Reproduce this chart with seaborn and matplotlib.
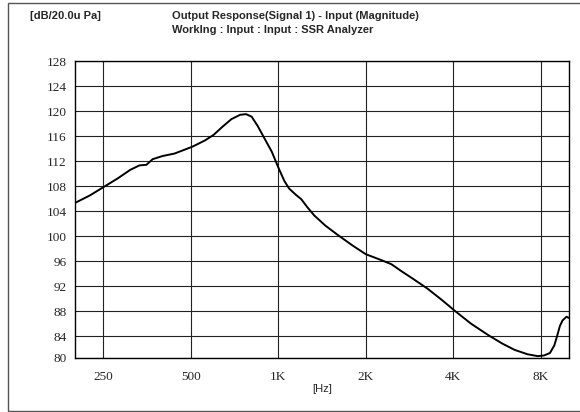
import numpy as np
import pandas as pd
import seaborn as sns
import matplotlib.pyplot as plt
from matplotlib.patches import Rectangle

# values
freq = [200, 225, 250, 280, 310, 333, 352, 370, 400, 440, 507, 560, 600, 640,
        690, 740, 775, 810, 850, 890, 950, 1000, 1050, 1090, 1150, 1200, 1260,
        1330, 1450, 1600, 1800, 2000, 2250, 2450, 2650, 2900, 3260, 3650, 4060,
        4600, 5260, 5900, 6500, 7200, 7800, 8200, 8600, 8900, 9100, 9300, 9500,
        9800, 10000]
level = [105.3, 106.5, 107.8, 109.2, 110.6, 111.3, 111.4, 112.3, 112.8, 113.2,
         114.3, 115.3, 116.2, 117.4, 118.7, 119.4, 119.5, 119.1, 117.6, 115.9,
         113.5, 111.0, 108.8, 107.6, 106.6, 105.9, 104.6, 103.3, 101.7, 100.2,
         98.5, 97.1, 96.2, 95.5, 94.4, 93.2, 91.6, 89.8, 88.0, 86.0, 84.2, 82.8,
         81.8, 81.1, 80.8, 80.9, 81.3, 82.5, 84.0, 85.6, 86.5, 87.1, 86.9]

x_ticks = [250, 500, 1000, 2000, 4000, 8000]
x_labels = ['250', '500', '1K', '2K', '4K', '8K']
y_ticks = [80.5, 84, 88, 92, 96, 100, 104, 108, 112, 116, 120, 124, 128]
y_labels = ['80', '84', '88', '92', '96', '100', '104', '108', '112', '116',
            '120', '124', '128']

df = pd.DataFrame({'Frequency': freq, 'Level': level})

sns.set_style('white')
plt.rcParams['font.family'] = ['Liberation Sans', 'DejaVu Sans']

fig = plt.figure(figsize=(5.8, 4.12), dpi=100)
ax = fig.add_axes([75 / 580, 54 / 412, 494 / 580, 297 / 412])

sns.lineplot(x='Frequency', y='Level', data=df, color='black', linewidth=1.4, ax=ax)

ax.set_xscale('log')
ax.set_xlim(200, 10000)
ax.set_ylim(80.5, 128)
ax.set_xticks(x_ticks)
ax.set_xticklabels(x_labels, family='Liberation Serif', fontsize=9.5)
ax.set_yticks(y_ticks)
ax.set_yticklabels(y_labels, family='Liberation Serif', fontsize=9.5)
ax.minorticks_off()
ax.tick_params(axis='x', length=0, pad=9)
ax.tick_params(axis='y', length=5, width=1, color='black', pad=1, direction='out')
ax.grid(True, color='#222222', linewidth=0.8)
for s in ax.spines.values():
    s.set_color('black')
    s.set_linewidth(1)
ax.set_xlabel('[Hz]', fontsize=8, labelpad=1)
ax.set_ylabel('')

fig.text(30 / 580, 1 - 16 / 412, '[dB/20.0u Pa]', fontsize=8, fontweight='bold', va='center')
fig.text(172 / 580, 1 - 16 / 412, 'Output Response(Signal 1) - Input (Magnitude)',
         fontsize=8, fontweight='bold', va='center')
fig.text(172 / 580, 1 - 30 / 412, 'WorkIng : Input : Input : SSR Analyzer',
         fontsize=8, fontweight='bold', va='center')

fig.add_artist(Rectangle((8 / 580, 1 / 412), 1.2, 408 / 412, transform=fig.transFigure,
                         fill=False, edgecolor='#555555', linewidth=1))

plt.savefig('out.png', dpi=100)
plt.close()
